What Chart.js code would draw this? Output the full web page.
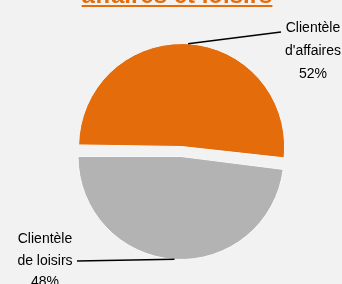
<!DOCTYPE html>
<html>
<head>
<meta charset="utf-8">
<script src="https://cdn.jsdelivr.net/npm/chart.js@4"></script>
<style>
  html, body { margin: 0; padding: 0; background: #f2f2f2; overflow: hidden; }
  #pieChart { display: block; }
</style>
</head>
<body>
<canvas id="pieChart" width="342" height="284"></canvas>
<script>
const titleText = 'affaires et loisirs';
const segments = ["Clientèle d'affaires", 'Clientèle de loisirs'];
const shares = [52, 48];
const labelLines = [["Clientèle", "d'affaires", "52%"], ["Clientèle", "de loisirs", "48%"]];
const sliceColors = ['#e46c0a', '#b3b3b3'];

// chart.js grows an offset slice by the offset amount, undo that so both slices keep one radius
function radiusGrow(arc) {
    const off = (arc.options.offset || 0) / 4;
    const circ = arc.endAngle - arc.startAngle;
    return off * (1 - Math.sin(Math.min(Math.PI, circ)));
}
const keepRadius = {
    id: 'keepRadius',
    afterDatasetsUpdate(chart) {
        chart.getDatasetMeta(0).data.forEach(arc => {
            arc.outerRadius -= radiusGrow(arc);
        });
    }
};

// title only shows its lower edge (cut at the top of the picture)
const titlePlugin = {
    id: 'cutTitle',
    afterDraw(chart) {
        const c = chart.ctx;
        c.save();
        c.font = 'bold 24px "Liberation Sans", Arial, sans-serif';
        c.fillStyle = '#e46c0a';
        c.textAlign = 'center';
        c.textBaseline = 'alphabetic';
        c.fillText(titleText, 177, 3);
        const w = c.measureText(titleText).width;
        c.fillRect(177 - w / 2, 5, w, 2);
        c.restore();
    }
};

// labels with leader lines from the middle of each slice edge
const labelPlugin = {
    id: 'sliceLabels',
    afterDraw(chart) {
        const c = chart.ctx;
        const arcs = chart.getDatasetMeta(0).data;
        const spots = [
            { lineTo: [281, 32], textX: 313, firstBase: 32, step: 23 },
            { lineTo: [77, 261], textX: 45, firstBase: 243, step: 21.5 }
        ];
        c.save();
        arcs.forEach((arc, i) => {
            const mid = (arc.startAngle + arc.endAngle) / 2;
            const off = (arc.options.offset || 0) / 4; // chart.js moves a slice by a quarter of the offset
            const r = arc.outerRadius + radiusGrow(arc);
            const sx = arc.x + Math.cos(mid) * (off + r);
            const sy = arc.y + Math.sin(mid) * (off + r);
            const s = spots[i];
            c.strokeStyle = '#000000';
            c.lineWidth = 1.5;
            c.beginPath();
            c.moveTo(sx, sy);
            c.lineTo(s.lineTo[0], s.lineTo[1]);
            c.stroke();
            c.font = '14px "Liberation Sans", Arial, sans-serif';
            c.fillStyle = '#000000';
            c.textAlign = 'center';
            c.textBaseline = 'alphabetic';
            labelLines[i].forEach((t, k) => c.fillText(t, s.textX, s.firstBase + k * s.step));
        });
        c.restore();
    }
};

new Chart(document.getElementById('pieChart').getContext('2d'), {
    type: 'pie',
    data: {
        labels: segments,
        datasets: [{
            data: shares,
            backgroundColor: sliceColors,
            borderColor: '#f7f7f7',
            borderWidth: 1,
            offset: [40, 0],
            radius: 103
        }]
    },
    options: {
        responsive: false,
        animation: false,
        rotation: 270,
        layout: { padding: { left: 20, right: 0, top: 29, bottom: 0 } },
        plugins: {
            legend: { display: false },
            tooltip: { enabled: false },
            title: { display: false }
        }
    },
    plugins: [keepRadius, titlePlugin, labelPlugin]
});
</script>
</body>
</html>
